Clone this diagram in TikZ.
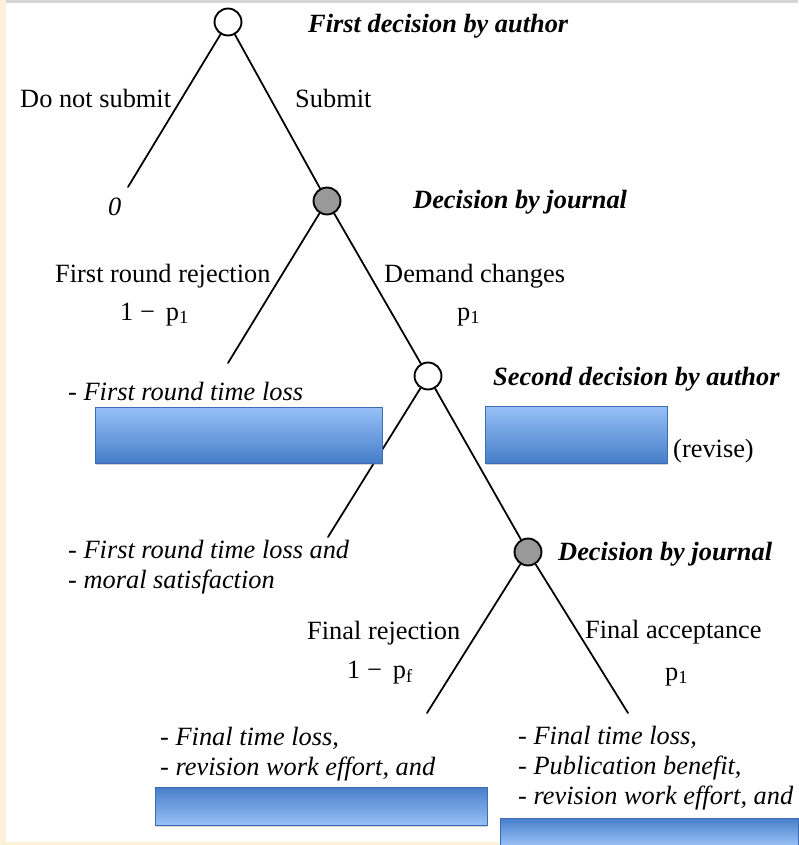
\documentclass[tikz,border=0pt]{standalone}
\usepackage{fontspec}
\setmainfont{Liberation Serif}
\usetikzlibrary{shadows}
\definecolor{paper}{RGB}{253,241,218}
\definecolor{rule}{RGB}{214,214,214}
\definecolor{boxlight}{RGB}{152,192,246}
\definecolor{boxdark}{RGB}{70,126,202}
\definecolor{boxedge}{RGB}{62,108,178}
\begin{document}
\begin{tikzpicture}[x=0.03cm, y=-0.03cm, font=\fontsize{22.5}{25.6}\selectfont, line join=round, line cap=round]
	\tikzset{author/.style={circle, draw, line width=1.6pt, fill=white, minimum size=23pt, inner sep=0pt},
		journal/.style={author, fill=gray!80},
		branch/.style={line width=1.5pt},
		head/.style={anchor=base west, inner sep=0pt, font=\fontsize{22.5}{25.6}\selectfont\bfseries\itshape},
		lbl/.style={anchor=base west, inner sep=0pt},
		payoff/.style={anchor=base west, inner sep=0pt, align=left, font=\fontsize{22.5}{25.2}\selectfont\itshape},
		cover/.style={draw=boxedge, line width=0.6pt, drop shadow={opacity=0.35, shadow xshift=1.2pt, shadow yshift=-1.5pt}}}
	\def \W{798}\def \H{845}
	\useasboundingbox (0,0) rectangle (\W,\H);
	\fill[paper] (0,0) rectangle (\W,\H);
	\fill[white] (6,3) rectangle (\W,842);
	\fill[rule] (6,0) rectangle (\W,3);
	% decision points
	\node[author] (a1) at (228,22) {};
	\node[journal] (j1) at (327,201) {};
	\node[author] (a2) at (428,376) {};
	\node[journal] (j2) at (528,552) {};
	\coordinate (out) at (128,187);
	\coordinate (rej) at (228,363);
	\coordinate (quit) at (328,537);
	\coordinate (frej) at (427,713);
	\coordinate (facc) at (628,713);
	\draw[branch] (a1)--(out) (a1)--(j1) (j1)--(rej) (j1)--(a2)
	(a2)--(quit) (a2)--(j2) (j2)--(frej) (j2)--(facc);
	\node[head] (h1) at (308,33) {First decision by author};
	\node[head] (h2) at (413,208) {Decision by journal};
	\node[head] (h3) at (493,385) {Second decision by author};
	\node[head] (h4) at (558,560) {Decision by journal};
	% branch labels
	\node[lbl] (l1) at (20,108) {Do not submit};
	\node[lbl] (l2) at (295,108) {Submit};
	\node[lbl, font=\fontsize{22.5}{25.6}\selectfont\itshape] (v0) at (108,215) {0};
	\node[lbl] (l3) at (55,282) {First round rejection};
	\node[lbl] (q1) at (120,320) {1 −\, p\textsubscript{1}};
	\node[lbl] (l4) at (384,282) {Demand changes};
	\node[lbl] (q2) at (457,320) {p\textsubscript{1}};
	\node[lbl] (l5) at (673,457) {(revise)};
	\node[lbl] (l6) at (307,639) {Final rejection};
	\node[lbl] (q3) at (347,678) {1 −\, p\textsubscript{f}};
	\node[lbl] (l7) at (585,638) {Final acceptance};
	\node[lbl] (q4) at (665,680) {p\textsubscript{1}};
	% payoffs (base = last line)
	\node[payoff] (p1) at (68,400) {- First round time loss};
	\node[payoff] (p2) at (68,588) {- First round time loss and\\- moral satisfaction};
	\node[payoff] (p3) at (160,775) {- Final time loss,\\- revision work effort, and};
	\node[payoff] (p4) at (518,804) {- Final time loss,\\- Publication benefit,\\- revision work effort, and};
	% covered parts
	\draw[cover, top color=boxlight, bottom color=boxdark] (95,407) rectangle (382,463);
	\draw[cover, top color=boxlight, bottom color=boxdark] (485,406) rectangle (667,463);
	\draw[cover, top color=boxdark, bottom color=boxlight] (155,787) rectangle (487,825);
	\draw[cover, top color=boxdark, bottom color=boxlight] (500,818) rectangle (\W,\H);
\end{tikzpicture}
\end{document}
